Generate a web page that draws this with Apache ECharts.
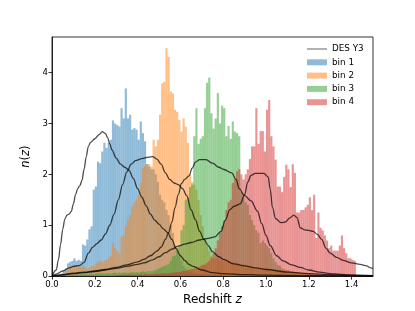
<!DOCTYPE html>
<html><head><meta charset="utf-8">
<script src="https://cdn.jsdelivr.net/npm/echarts@6/dist/echarts.min.js"></script>
<style>html,body{margin:0;padding:0;background:#fff}#c{width:415px;height:311px}</style>
</head><body><div id="c"></div>
<script>
const BIN_W = 0.01;
const xTicks = [0, 0.2, 0.4, 0.6, 0.8, 1.0, 1.2, 1.4];
const yTicks = [0, 1, 2, 3, 4];
const binNames = ['bin 1', 'bin 2', 'bin 3', 'bin 4'];
const lineName = 'DES Y3';

// histogram heights, one value per 0.01-wide bin starting at binXStart
const bin1Start = 0.03;
const bin1 = [0.03,0.05,0.1,0.15,0.25,0.28,0.3,0.35,0.3,0.32,0.3,0.62,0.6,0.72,0.92,0.98,1.7,1.76,2.25,2.22,
  2.45,2.62,2.52,2.62,2.68,3.06,3.0,2.97,2.94,3.3,3.1,3.69,3.1,3.17,2.88,2.91,2.88,2.68,3.04,2.81,
  2.65,2.2,2.15,2.1,2.1,2.0,1.85,1.6,1.5,1.45,1.3,1.2,1.0,0.85,0.6,0.5,0.4,0.3,0.2,0.15,
  0.1,0.08,0.07,0.06,0.05,0.05,0.04,0.04,0.04,0.03,0.04,0.03,0.03,0.03,0.02,0.03,0.02,0.02];
const bin2Start = 0.03;
const bin2 = [0.02,0.04,0.06,0.1,0.15,0.2,0.2,0.22,0.2,0.2,0.18,0.2,0.17,0.15,0.17,0.2,0.2,0.25,0.27,0.3,
  0.28,0.3,0.32,0.35,0.4,0.65,0.55,0.5,0.45,0.78,0.81,0.98,1.11,1.2,1.37,1.45,1.5,1.6,1.83,2.12,
  2.16,2.2,2.2,2.15,2.68,2.55,2.68,3.17,3.79,3.82,4.48,4.31,3.63,3.59,3.27,3.23,3.07,2.84,3.1,2.94,
  2.62,2.0,1.85,1.8,1.7,1.5,1.2,0.98,0.75,0.6,0.5,0.4,0.35,0.33,0.35,0.3,0.32,0.3,0.28,0.3,
  0.27,0.28,0.25,0.27,0.25,0.22,0.24,0.2,0.2,0.18,0.19,0.17,0.16,0.17,0.15,0.15,0.14,0.15,0.13,0.12,
  0.13,0.11,0.12,0.1,0.11,0.1,0.09,0.1,0.08,0.09,0.08,0.07,0.08,0.06,0.07,0.06,0.05,0.06,0.05,0.04,
  0.05,0.04,0.03,0.04,0.03,0.03,0.02,0.02];
const bin3Start = 0.08;
const bin3 = [0.02,0.03,0.03,0.04,0.03,0.04,0.04,0.05,0.04,0.05,0.05,0.04,0.05,0.06,0.05,0.06,0.05,0.06,0.06,0.05,
  0.06,0.07,0.06,0.07,0.06,0.07,0.07,0.06,0.07,0.08,0.07,0.08,0.07,0.08,0.09,0.08,0.09,0.1,0.09,0.11,
  0.12,0.14,0.16,0.18,0.2,0.22,0.23,0.3,0.39,0.4,0.55,0.6,0.9,1.0,1.5,1.55,1.75,1.8,2.75,3.3,
  2.6,2.7,2.75,3.3,3.8,3.9,3.2,2.9,3.1,3.6,3.0,3.35,3.3,2.75,2.95,2.7,3.04,2.84,2.81,2.75,
  1.65,1.55,1.45,1.4,1.2,1.1,1.0,0.9,0.85,0.65,0.7,0.65,0.6,0.55,0.45,0.35,0.28,0.22,0.2,0.15,
  0.14,0.12,0.12,0.1,0.09,0.08,0.08,0.07,0.06,0.06,0.05,0.05,0.04,0.04,0.03,0.03,0.03,0.02];
const bin4Start = 0.30;
const bin4 = [0.02,0.02,0.02,0.03,0.02,0.03,0.03,0.02,0.03,0.03,0.03,0.04,0.03,0.04,0.04,0.03,0.04,0.04,0.05,0.04,
  0.05,0.05,0.06,0.05,0.06,0.06,0.07,0.07,0.08,0.08,0.09,0.1,0.1,0.12,0.13,0.14,0.15,0.17,0.18,0.2,
  0.22,0.23,0.26,0.3,0.36,0.45,0.55,0.7,0.85,0.98,1.1,1.3,1.45,1.5,1.83,1.9,2.06,2.1,2.0,1.9,
  2.0,2.1,2.3,2.55,2.55,3.3,2.6,2.85,2.85,2.45,3.27,3.46,2.75,2.55,2.29,1.76,1.76,1.65,1.95,2.19,
  2.1,1.75,2.2,2.03,1.25,1.25,1.3,1.3,1.35,1.4,1.55,1.3,1.6,0.75,1.25,0.95,0.9,0.8,0.7,0.55,
  0.6,0.5,0.5,0.5,0.6,0.8,0.55,0.45,0.35,0.35,0.32,0.3];

// DES Y3 reference curves: [z, n(z)]
const des1 = [[0,0],[0.02,0.12],[0.03,0.32],[0.04,0.62],[0.05,0.92],[0.06,1.12],[0.07,1.2],[0.08,1.22],[0.09,1.27],[0.10,1.42],
  [0.11,1.6],[0.12,1.72],[0.13,1.78],[0.14,1.88],[0.15,2.1],[0.16,2.35],[0.17,2.55],[0.18,2.63],[0.20,2.7],[0.22,2.78],
  [0.235,2.84],[0.25,2.8],[0.26,2.72],[0.27,2.6],[0.28,2.48],[0.30,2.32],[0.32,2.2],[0.34,2.14],[0.36,2.08],[0.38,1.92],
  [0.40,1.72],[0.42,1.55],[0.44,1.38],[0.46,1.22],[0.48,1.1],[0.50,1.02],[0.52,0.93],[0.54,0.86],[0.56,0.72],[0.58,0.54],
  [0.60,0.4],[0.62,0.31],[0.64,0.23],[0.66,0.19],[0.70,0.12],[0.75,0.07],[0.80,0.05],[0.90,0.03],[1.0,0.02],[1.2,0.01],[1.5,0.0]];
const des2 = [[0,0],[0.02,0.04],[0.05,0.1],[0.08,0.16],[0.10,0.19],[0.13,0.21],[0.15,0.27],[0.17,0.45],[0.19,0.57],[0.21,0.64],
  [0.23,0.71],[0.25,0.83],[0.27,1.0],[0.29,1.22],[0.31,1.5],[0.33,1.8],[0.35,2.05],[0.37,2.2],[0.39,2.27],[0.42,2.31],
  [0.45,2.34],[0.47,2.35],[0.49,2.3],[0.51,2.2],[0.53,2.03],[0.55,1.9],[0.57,1.83],[0.59,1.8],[0.61,1.72],[0.63,1.58],
  [0.65,1.3],[0.67,1.11],[0.69,0.88],[0.71,0.72],[0.73,0.6],[0.75,0.48],[0.78,0.38],[0.80,0.33],[0.85,0.24],[0.90,0.2],
  [0.95,0.16],[1.0,0.13],[1.1,0.08],[1.2,0.05],[1.3,0.03],[1.4,0.02],[1.5,0.01]];
const des3 = [[0,0],[0.05,0.03],[0.1,0.06],[0.15,0.08],[0.2,0.1],[0.25,0.13],[0.3,0.17],[0.35,0.22],[0.4,0.28],[0.43,0.33],
  [0.46,0.4],[0.49,0.49],[0.51,0.57],[0.53,0.72],[0.545,0.86],[0.56,1.06],[0.575,1.35],[0.59,1.6],[0.605,1.82],[0.62,1.9],
  [0.64,1.97],[0.655,2.12],[0.67,2.24],[0.69,2.29],[0.72,2.29],[0.75,2.22],[0.78,2.14],[0.80,2.1],[0.84,2.03],[0.86,1.9],
  [0.875,1.72],[0.9,1.58],[0.93,1.48],[0.96,1.28],[0.98,1.03],[1.0,0.8],[1.02,0.6],[1.05,0.4],[1.08,0.3],[1.12,0.22],
  [1.16,0.17],[1.2,0.12],[1.25,0.08],[1.3,0.05],[1.4,0.02],[1.5,0.01]];
const des4 = [[0,0],[0.05,0.02],[0.1,0.05],[0.15,0.07],[0.2,0.09],[0.25,0.12],[0.3,0.15],[0.35,0.19],[0.4,0.23],[0.43,0.26],
  [0.47,0.32],[0.5,0.38],[0.53,0.46],[0.56,0.53],[0.59,0.59],[0.62,0.63],[0.65,0.66],[0.69,0.71],[0.73,0.74],[0.76,0.77],
  [0.79,0.88],[0.81,1.1],[0.83,1.3],[0.85,1.37],[0.88,1.42],[0.90,1.6],[0.915,1.85],[0.93,1.98],[0.95,2.02],[0.99,2.02],
  [1.01,1.95],[1.02,1.7],[1.03,1.35],[1.045,1.13],[1.07,1.05],[1.09,1.06],[1.11,1.14],[1.13,1.2],[1.145,1.15],[1.16,0.95],
  [1.18,0.91],[1.2,0.9],[1.22,0.88],[1.24,0.82],[1.26,0.72],[1.28,0.55],[1.30,0.45],[1.33,0.37],[1.36,0.31],[1.4,0.26],
  [1.44,0.23],[1.47,0.2],[1.49,0.16],[1.5,0.15]];

const colors = ['rgba(31,119,180,0.5)','rgba(255,127,14,0.5)','rgba(44,160,44,0.5)','rgba(214,39,40,0.5)'];
const lineColor = 'rgba(0,0,0,0.7)';
const legendLineColor = 'rgba(0,0,0,0.6)';
const FONT = 'DejaVu Sans';

function toBins(start, vals){
  return vals.map((v,i)=>[Math.round((start + i*BIN_W)*1000)/1000, v]);
}
function makeRender(color){
  return function(params, api){
    const x0 = api.value(0), h = api.value(1);
    const a = api.coord([x0, h]);
    const b = api.coord([x0 + BIN_W, 0]);
    return {type:'rect', shape:{x:a[0], y:a[1], width:b[0]-a[0], height:b[1]-a[1]}, style:{fill:color}};
  };
}
const hists = [[bin1Start,bin1],[bin2Start,bin2],[bin3Start,bin3],[bin4Start,bin4]];
const series = hists.map((h,k)=>({
  type:'custom', name:binNames[k], data:toBins(h[0],h[1]), encode:{x:0,y:1},
  renderItem:makeRender(colors[k]), itemStyle:{color:colors[k]}, clip:true, silent:true
}));
[des1,des2,des3,des4].forEach(d=>series.push({
  type:'line', name:lineName, data:d, symbol:'none', smooth:0.35, smoothMonotone:'x',
  lineStyle:{color:lineColor, width:1.3}, itemStyle:{color:lineColor}, silent:true, z:5
}));

// thin horizontal stroke centred in a 20x6 legend box
const lineIcon = 'path://M0,0h20v0.01h-20z M0,2.4h20v1.2h-20z M0,5.99h20v0.01h-20z';

const chart = echarts.init(document.getElementById('c'), null, {renderer:'canvas'});
chart.setOption({
  animation:false,
  backgroundColor:'#fff',
  textStyle:{fontFamily:FONT},
  grid:{left:52, right:42, top:37, bottom:34, show:true, borderColor:'#000', borderWidth:0.8, backgroundColor:'transparent'},
  legend:{
    orient:'vertical', left:307, top:44, padding:0, itemWidth:20, itemHeight:6, itemGap:3.3,
    textStyle:{fontFamily:FONT, fontSize:8.8, color:'#000', lineHeight:10},
    data:[{name:lineName, icon:lineIcon, itemStyle:{color:legendLineColor}},
          {name:'bin 1',icon:'rect'},{name:'bin 2',icon:'rect'},{name:'bin 3',icon:'rect'},{name:'bin 4',icon:'rect'}],
    selectedMode:false
  },
  xAxis:{
    type:'value', min:0, max:1.5,
    name:'Redshift {i|z}', nameLocation:'middle', nameGap:15,
    nameTextStyle:{fontFamily:FONT, fontSize:12, color:'#000', rich:{i:{fontFamily:FONT, fontSize:12, fontStyle:'italic', color:'#000'}}},
    axisLine:{show:true, lineStyle:{color:'#000', width:0.8}},
    axisTick:{show:true, length:3.5, lineStyle:{color:'#000', width:0.8}, customValues:xTicks},
    axisLabel:{customValues:xTicks, formatter:v=>v.toFixed(1), fontFamily:FONT, fontSize:8.5, color:'#000', margin:4},
    splitLine:{show:false}
  },
  yAxis:{
    type:'value', min:0, max:4.7,
    name:'{i|n}({i|z})', nameLocation:'middle', nameGap:16, nameRotate:90,
    nameTextStyle:{fontFamily:FONT, fontSize:11.5, color:'#000', rich:{i:{fontFamily:FONT, fontSize:11.5, fontStyle:'italic', color:'#000'}}},
    axisLine:{show:true, lineStyle:{color:'#000', width:0.8}},
    axisTick:{show:true, length:3.5, lineStyle:{color:'#000', width:0.8}, customValues:yTicks},
    axisLabel:{customValues:yTicks, formatter:v=>String(v), fontFamily:FONT, fontSize:8.5, color:'#000', margin:4},
    splitLine:{show:false}
  },
  series:series
});
</script></body></html>
